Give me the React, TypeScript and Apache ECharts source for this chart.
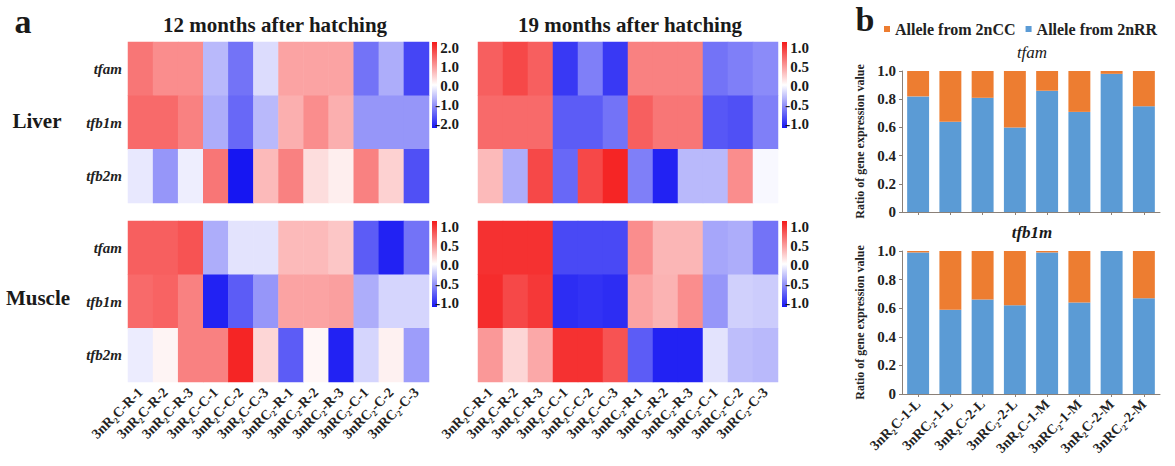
import React, { useEffect, useRef } from "react";
import * as echarts from "echarts";

const heatCols = [
  "3nR₂C-R-1", "3nR₂C-R-2", "3nR₂C-R-3", "3nR₂C-C-1", "3nR₂C-C-2", "3nR₂C-C-3",
  "3nRC₂-R-1", "3nRC₂-R-2", "3nRC₂-R-3", "3nRC₂-C-1", "3nRC₂-C-2", "3nRC₂-C-3",
];
const genes = ["tfam", "tfb1m", "tfb2m"];

// rows: tfam, tfb1m, tfb2m
const liver12 = [
  [1.2, 1.0, 1.0, -0.6, -1.2, -0.3, 0.8, 0.8, 0.8, -1.2, -0.7, -1.6],
  [1.3, 1.3, 1.1, -0.7, -1.3, -0.6, 0.7, 1.0, 0.7, -0.9, -0.9, -0.9],
  [-0.2, -0.9, -0.15, 1.2, -2.0, 0.6, 1.1, 0.3, 0.15, 1.1, 0.4, -1.5],
];
const liver19 = [
  [0.7, 0.8, 0.7, -0.85, -0.55, -0.85, 0.55, 0.55, 0.55, -0.6, -0.55, -0.5],
  [0.65, 0.65, 0.65, -0.7, -0.7, -0.6, 0.7, 0.6, 0.6, -0.72, -0.75, -0.55],
  [0.3, -0.35, 0.8, -0.65, 0.8, 0.95, -0.55, -0.95, -0.3, -0.3, 0.5, -0.03],
];
const muscle12 = [
  [0.7, 0.7, 0.75, -0.35, -0.12, -0.12, 0.3, 0.3, 0.25, -0.7, -0.95, -0.6],
  [0.65, 0.68, 0.55, -0.95, -0.7, -0.45, 0.4, 0.4, 0.42, -0.35, -0.18, -0.18],
  [-0.08, 0.05, 0.55, 0.55, 0.95, 0.18, -0.7, 0.04, -0.95, -0.18, 0.06, -0.42],
];
const muscle19 = [
  [0.9, 0.9, 0.9, -0.78, -0.78, -0.78, 0.5, 0.32, 0.32, -0.38, -0.35, -0.6],
  [0.92, 0.8, 0.87, -0.9, -0.88, -0.9, 0.4, 0.33, 0.5, -0.45, -0.2, -0.22],
  [0.45, 0.18, 0.38, 0.9, 0.9, 0.75, -0.7, -0.95, -0.95, -0.12, -0.28, -0.3],
];
const ticksWide = ["2.0", "1.0", "0.0", "-1.0", "-2.0"];
const ticksNarrow = ["1.0", "0.5", "0.0", "-0.5", "-1.0"];

const barCats = [
  "3nR₂C-1-L", "3nRC₂-1-L", "3nR₂C-2-L", "3nRC₂-2-L",
  "3nR₂C-1-M", "3nRC₂-1-M", "3nR₂C-2-M", "3nRC₂-2-M",
];
const tfamRR = [0.82, 0.64, 0.81, 0.6, 0.86, 0.71, 0.98, 0.75];
const tfamCC = [0.18, 0.36, 0.19, 0.4, 0.14, 0.29, 0.02, 0.25];
const tfb1mRR = [0.99, 0.59, 0.66, 0.62, 0.99, 0.64, 1.0, 0.67];
const tfb1mCC = [0.01, 0.41, 0.34, 0.38, 0.01, 0.36, 0.0, 0.33];

const SERIF = "Liberation Serif";
const BLUE = "#5B9BD5";
const ORANGE = "#ED7D31";
const HEAT = ["#1616F2", "#FFFFFF", "#F41A1A"];

function toCells(rows: number[][]) {
  const out: number[][] = [];
  rows.forEach((r, yi) => r.forEach((v, xi) => out.push([xi, yi, v])));
  return out;
}

// text style for component labels, using a rich wrapper so the font is set per run
function richStyle(size: number, weight: string, italic = false) {
  return {
    fontFamily: SERIF,
    fontSize: size,
    fontWeight: weight,
    fontStyle: italic ? "italic" : "normal",
    color: "#222",
  };
}

export default function App() {
  const ref = useRef<HTMLDivElement>(null);
  useEffect(() => {
    if (!ref.current) return;
    const chart = echarts.init(ref.current, undefined, { renderer: "svg" });

    const heatGrids = [
      { left: 128, top: 42, width: 301, height: 161 },
      { left: 478, top: 42, width: 300, height: 161 },
      { left: 128, top: 221, width: 301, height: 161 },
      { left: 478, top: 221, width: 300, height: 161 },
    ];
    const barGrids = [
      { left: 902, top: 71, width: 258, height: 141 },
      { left: 902, top: 251, width: 258, height: 143 },
    ];
    const heatData = [liver12, liver19, muscle12, muscle19];
    const ranges = [2, 1, 1, 1];

    const xAxes: any[] = [];
    const yAxes: any[] = [];
    heatGrids.forEach((_, i) => {
      xAxes.push({
        type: "category",
        gridIndex: i,
        data: heatCols,
        axisLine: { show: false },
        axisTick: { show: false },
        splitArea: { show: false },
        axisLabel: {
          show: i >= 2,
          rotate: 45,
          interval: 0,
          margin: 8,
          ...richStyle(14, "bold"),
          formatter: (v: string) => `{t|${v}}`,
          rich: { t: richStyle(14, "bold") },
        },
      });
      yAxes.push({
        type: "category",
        gridIndex: i,
        data: genes,
        inverse: true,
        axisLine: { show: false },
        axisTick: { show: false },
        splitArea: { show: false },
        axisLabel: {
          show: i % 2 === 0,
          margin: 6,
          ...richStyle(15, "bold", true),
          formatter: (v: string) => `{t|${v}}`,
          rich: { t: richStyle(15, "bold", true) },
        },
      });
    });
    barGrids.forEach((_, j) => {
      const gi = 4 + j;
      xAxes.push({
        type: "category",
        gridIndex: gi,
        data: barCats,
        axisLine: { show: true, lineStyle: { color: "#8a8078", width: 1 } },
        axisTick: { show: true, alignWithLabel: true, length: 3, lineStyle: { color: "#8a8078" } },
        axisLabel: {
          show: j === 1,
          rotate: 45,
          interval: 0,
          margin: 8,
          ...richStyle(14, "bold"),
          formatter: (v: string) => `{t|${v}}`,
          rich: { t: richStyle(14, "bold") },
        },
      });
      yAxes.push({
        type: "value",
        gridIndex: gi,
        min: 0,
        max: 1,
        interval: 0.2,
        name: "Ratio of gene expression value",
        nameLocation: "middle",
        nameRotate: 90,
        nameGap: 36,
        nameTextStyle: richStyle(12, "bold"),
        axisLine: { show: true, lineStyle: { color: "#8a8078", width: 1 } },
        axisTick: { show: true, length: 3, lineStyle: { color: "#8a8078" } },
        splitLine: { show: false },
        axisLabel: {
          margin: 6,
          ...richStyle(15, "bold"),
          formatter: (v: number) => `{t|${v === 0 ? "0" : v.toFixed(1)}}`,
          rich: { t: richStyle(15, "bold") },
        },
      });
    });

    const series: any[] = heatData.map((rows, i) => ({
      type: "heatmap",
      xAxisIndex: i,
      yAxisIndex: i,
      data: toCells(rows),
      itemStyle: { borderWidth: 0 },
      emphasis: { disabled: true },
    }));
    const barPairs = [
      [tfamRR, tfamCC],
      [tfb1mRR, tfb1mCC],
    ];
    barPairs.forEach(([rr, cc], j) => {
      series.push({
        type: "bar",
        name: "Allele from 2nRR",
        xAxisIndex: 4 + j,
        yAxisIndex: 4 + j,
        stack: "s" + j,
        barWidth: "68%",
        data: rr,
        itemStyle: { color: BLUE },
      });
      series.push({
        type: "bar",
        name: "Allele from 2nCC",
        xAxisIndex: 4 + j,
        yAxisIndex: 4 + j,
        stack: "s" + j,
        barWidth: "68%",
        data: cc,
        itemStyle: { color: ORANGE },
      });
    });

    const visualMap = ranges.map((r, i) => ({
      type: "continuous",
      show: false,
      seriesIndex: i,
      min: -r,
      max: r,
      inRange: { color: HEAT },
    }));

    const graphics: any[] = [];
    const txt = (text: string, x: number, y: number, size: number, opts: any = {}) => ({
      type: "text",
      x,
      y,
      silent: true,
      style: {
        text,
        fill: "#1a1a1a",
        fontFamily: SERIF,
        fontSize: size,
        fontWeight: opts.weight || "bold",
        fontStyle: opts.italic ? "italic" : "normal",
        textAlign: opts.align || "center",
        textVerticalAlign: "middle",
      },
    });
    graphics.push(txt("a", 23, 21, 34));
    graphics.push(txt("b", 865, 19, 34));
    graphics.push(txt("12 months after hatching", 275, 25, 21));
    graphics.push(txt("19 months after hatching", 630, 25, 21));
    graphics.push(txt("Liver", 37, 121, 21));
    graphics.push(txt("Muscle", 38, 298, 21));
    graphics.push(txt("tfam", 1032, 52, 17, { italic: true, weight: "normal" }));
    graphics.push(txt("tfb1m", 1032, 232, 17, { italic: true }));

    const bars = [
      { x: 432, y: 42, ticks: ticksWide, lx: 459 },
      { x: 782, y: 42, ticks: ticksNarrow, lx: 809 },
      { x: 432, y: 221, ticks: ticksNarrow, lx: 459 },
      { x: 782, y: 221, ticks: ticksNarrow, lx: 809 },
    ];
    bars.forEach((b) => {
      graphics.push({
        type: "rect",
        silent: true,
        shape: { x: b.x, y: b.y, width: 5, height: 86 },
        style: {
          fill: new echarts.graphic.LinearGradient(0, 0, 0, 1, [
            { offset: 0, color: HEAT[2] },
            { offset: 0.5, color: HEAT[1] },
            { offset: 1, color: HEAT[0] },
          ]),
        },
      });
      b.ticks.forEach((t, k) => {
        graphics.push(txt(t, b.lx, b.y + 6 + k * 19, 15, { align: "right" }));
      });
    });

    chart.setOption({
      animation: false,
      backgroundColor: "#ffffff",
      textStyle: { fontFamily: SERIF },
      grid: [...heatGrids, ...barGrids],
      xAxis: xAxes,
      yAxis: yAxes,
      visualMap,
      legend: {
        data: ["Allele from 2nCC", "Allele from 2nRR"],
        left: 884,
        top: 21,
        width: 300,
        padding: 0,
        icon: "rect",
        itemWidth: 6,
        itemHeight: 6,
        itemGap: 10,
        selectedMode: false,
        formatter: (n: string) => `{t|${n}}`,
        textStyle: { ...richStyle(16, "bold"), rich: { t: richStyle(16, "bold") } },
      },
      series,
      graphic: graphics,
    });
    return () => chart.dispose();
  }, []);
  return (
    <div
      ref={ref}
      style={{ position: "absolute", left: 0, top: 0, width: 1175, height: 466 }}
    />
  );
}
